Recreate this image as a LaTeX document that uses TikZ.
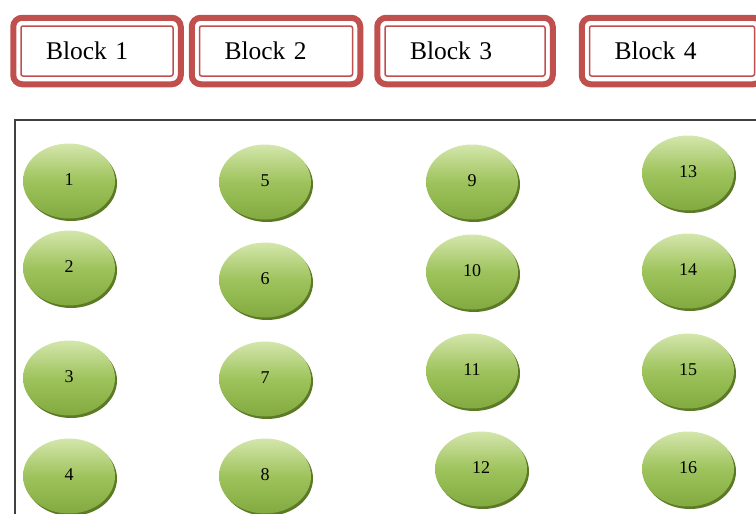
\documentclass[tikz,border=0pt]{standalone}
\usepackage{fontspec}
\setmainfont{Liberation Serif}
\usetikzlibrary{fit,shadows,shapes.geometric}

\definecolor{blockred}{RGB}{192,80,77}
\definecolor{ballgreen}{RGB}{158,195,92}
\definecolor{balllight}{RGB}{212,230,172}
\definecolor{balllow}{RGB}{130,170,64}
\definecolor{balldark}{RGB}{92,122,38}
\definecolor{framegray}{RGB}{64,64,64}

\tikzset{
  blockbox/.style={draw=blockred, line width=1.5pt, rounded corners=2pt,
    minimum height=50pt, inner xsep=25pt, align=left,
    font=\fontsize{25.5}{27}\selectfont},
  blockframe/.style={draw=blockred, line width=6pt, rounded corners=9pt,
    inner xsep=7pt, inner ysep=7.5pt},
  ball/.style={ellipse, minimum width=92pt, minimum height=75pt, inner sep=0pt,
    top color=balllight, bottom color=balllow, middle color=ballgreen,
    drop shadow={shadow xshift=2pt, shadow yshift=-2.5pt, fill=balldark, opacity=1},
    font=\fontsize{18}{19}\selectfont}
}

\begin{document}
\begin{tikzpicture}[x=1pt,y=-1pt]
  \useasboundingbox (0,0) rectangle (756,514);
  \clip (0,0) rectangle (756,514);

  % blocs du haut
  \foreach \i/\cx/\tw in {1/97/102, 2/276/103, 3/465/110, 4/672/115}{
    \node[blockbox, text width=\tw pt] (blk\i) at (\cx,51) {Block \i};
    \node[blockframe, fit=(blk\i)] (frm\i) {};
  }

  % cadre
  \draw[framegray, line width=1.5pt] (15,600) |- (800,120);

  % les 16 positions
  \foreach \i/\bx/\by in {1/69/181, 2/69/268, 3/69/378, 4/69/476,
                          5/265/182, 6/265/280, 7/265/379, 8/265/476,
                          9/472/182, 10/472/272, 11/472/371, 12/481/469,
                          13/688/173, 14/688/271, 15/688/371, 16/688/469}{
    \node[ball] (pos\i) at (\bx,\by) {\raisebox{3pt}{\i}};
  }
\end{tikzpicture}
\end{document}
